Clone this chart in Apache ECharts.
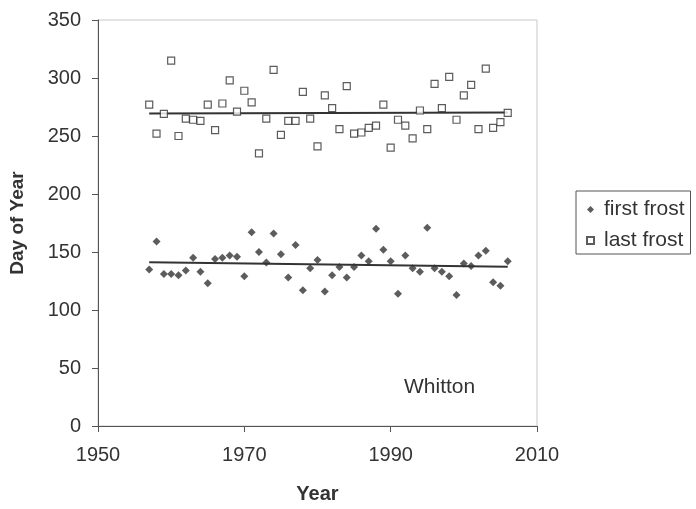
<!DOCTYPE html>
<html>
<head>
<meta charset="utf-8">
<script src="https://cdn.jsdelivr.net/npm/echarts@6/dist/echarts.min.js"></script>
<style>
  html, body { margin: 0; padding: 0; background: #fff; }
  #chart { width: 696px; height: 509px; }
</style>
</head>
<body>
<div id="chart"></div>
<script>
// 年份 1957-2006
const years = [];
for (let y = 1957; y <= 2006; y++) years.push(y);

const firstFrost = [
  135, 159, 131, 131, 130, 134, 145, 133, 123, 144,
  145, 147, 146, 129, 167, 150, 141, 166, 148, 128,
  156, 117, 136, 143, 116, 130, 137, 128, 137, 147,
  142, 170, 152, 142, 114, 147, 136, 133, 171, 136,
  133, 129, 113, 140, 138, 147, 151, 124, 121, 142
];

const lastFrost = [
  277, 252, 269, 315, 250, 265, 264, 263, 277, 255,
  278, 298, 271, 289, 279, 235, 265, 307, 251, 263,
  263, 288, 265, 241, 285, 274, 256, 293, 252, 253,
  257, 259, 277, 240, 264, 259, 248, 272, 256, 295,
  274, 301, 264, 285, 294, 256, 308, 257, 262, 270
];

const yTicks = [0, 50, 100, 150, 200, 250, 300, 350];
const xTicks = [1950, 1970, 1990, 2010];

// 线性趋势线（最小二乘）
function trend(xs, ys) {
  const n = xs.length;
  const mx = xs.reduce((s, v) => s + v, 0) / n;
  const my = ys.reduce((s, v) => s + v, 0) / n;
  let num = 0, den = 0;
  for (let i = 0; i < n; i++) { num += (xs[i] - mx) * (ys[i] - my); den += (xs[i] - mx) ** 2; }
  const b = num / den, a = my - b * mx;
  const x0 = xs[0], x1 = xs[n - 1];
  return [[x0, a + b * x0], [x1, a + b * x1]];
}

const font = "Liberation Sans, Arial, sans-serif";
const ink = "#333";

const chart = echarts.init(document.getElementById("chart"));
chart.setOption({
  animation: false,
  backgroundColor: "#fff",
  grid: { left: 97, right: 159, top: 20, bottom: 83, show: true, borderColor: "#c8c8c8", borderWidth: 1 },
  xAxis: {
    type: "value", min: 1950, max: 2010, interval: 20,
    name: "Year", nameLocation: "middle", nameGap: 58,
    nameTextStyle: { fontFamily: font, fontSize: 20, fontWeight: "bold", color: ink },
    axisLine: { lineStyle: { color: "#555" } },
    axisTick: { show: true, length: 6, lineStyle: { color: "#555" } },
    axisLabel: { fontFamily: font, fontSize: 20, color: ink, margin: 19,
      formatter: (v) => xTicks.includes(v) ? String(v) : "" },
    splitLine: { show: false }
  },
  yAxis: {
    type: "value", min: 0, max: 350, interval: 50,
    name: "Day of Year", nameLocation: "middle", nameGap: 71, nameRotate: 90,
    nameTextStyle: { fontFamily: font, fontSize: 19, fontWeight: "bold", color: ink },
    axisLine: { show: true, lineStyle: { color: "#555" } },
    axisTick: { show: true, length: 6, lineStyle: { color: "#555" } },
    axisLabel: { fontFamily: font, fontSize: 20, color: ink, margin: 17,
      formatter: (v) => yTicks.includes(v) ? String(v) : "" },
    splitLine: { show: false }
  },
  legend: {
    orient: "vertical", left: 576, top: 191,
    data: ["first frost", "last frost"],
    borderColor: "#555", borderWidth: 1, borderRadius: 0,
    padding: [8, 6, 3, 10], itemGap: 10,
    itemWidth: 7, itemHeight: 7,
    textStyle: { fontFamily: font, fontSize: 21, color: ink, padding: [0, 0, 0, 5] }
  },
  graphic: [{
    type: "text", left: 404, top: 377,
    style: { text: "Whitton", font: "21px " + font, fill: ink }
  }],
  series: [
    {
      name: "first frost", type: "scatter", symbol: "diamond", symbolSize: 8,
      itemStyle: { color: ink },
      data: years.map((y, i) => [y, firstFrost[i]]), z: 3
    },
    {
      name: "last frost", type: "scatter", symbol: "rect", symbolSize: 7,
      itemStyle: { color: "#fff", borderColor: ink, borderWidth: 1.2 },
      data: years.map((y, i) => [y, lastFrost[i]]), z: 3
    },
    {
      type: "line", data: trend(years, firstFrost), symbol: "none", silent: true,
      lineStyle: { color: ink, width: 2 }, z: 2
    },
    {
      type: "line", data: trend(years, lastFrost), symbol: "none", silent: true,
      lineStyle: { color: ink, width: 2 }, z: 2
    }
  ]
});
</script>
</body>
</html>
